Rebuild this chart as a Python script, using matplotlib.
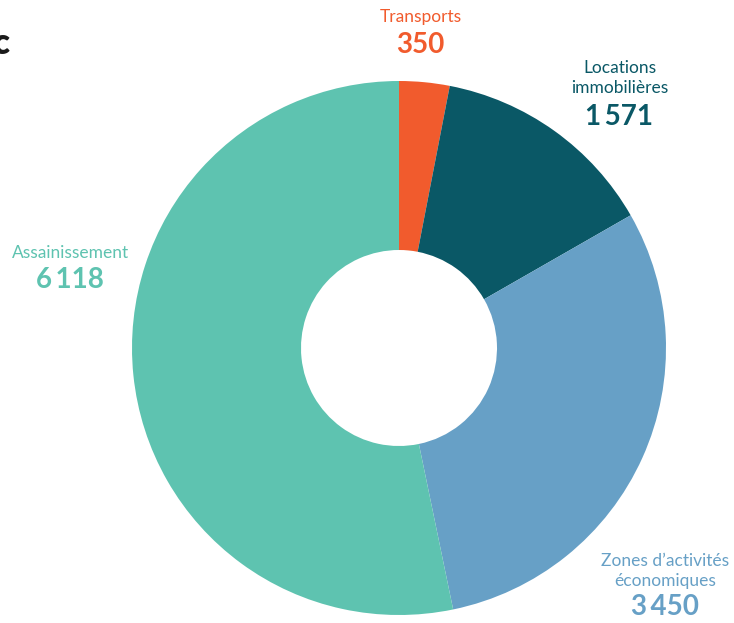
import matplotlib
matplotlib.use("Agg")
import matplotlib.pyplot as plt

categories = ["Transports", "Locations\nimmobilières", "Zones d’activités\néconomiques", "Assainissement"]
values = [350, 1571, 3450, 6118]
value_labels = ["350", "1\u2009571", "3\u2009450", "6\u2009118"]
colors = ["#F15B2D", "#0A5866", "#67A0C6", "#5EC3B0"]

W, H = 734, 623
fig = plt.figure(figsize=(W / 100, H / 100), dpi=100)
ax = fig.add_axes([0, 0, 1, 1])

cx, cy = 399, H - 348
R = 267
hole = 98
ax.pie(values, colors=colors, startangle=90, counterclock=False,
       center=(cx, cy), radius=R, frame=True,
       wedgeprops=dict(width=R - hole, linewidth=0))
ax.set_xlim(0, W)
ax.set_ylim(0, H)
ax.set_aspect("equal")
ax.axis("off")

font = ["Lato", "DejaVu Sans"]
# label positions (pixels from top-left)
label_pos = [(421, 17), (620, 78), (665, 571), (71, 253)]
num_pos = [(420, 45), (619, 117), (665, 607), (70, 280)]
for cat, vl, col, (lx, ly), (nx, ny) in zip(categories, value_labels, colors, label_pos, num_pos):
    ax.text(lx, H - ly, cat, color=col, fontsize=12.5, family=font,
            ha="center", va="center", linespacing=1.25)
    ax.text(nx, H - ny, vl, color=col, fontsize=20, fontweight="bold",
            family=font, ha="center", va="center")

# cut-off title fragment at the top-left edge
ax.text(9, H - 43, "c", color="#1a1a1a", fontsize=25, fontweight="heavy",
        family=font, ha="right", va="center")

fig.savefig("out.png", dpi=100)
